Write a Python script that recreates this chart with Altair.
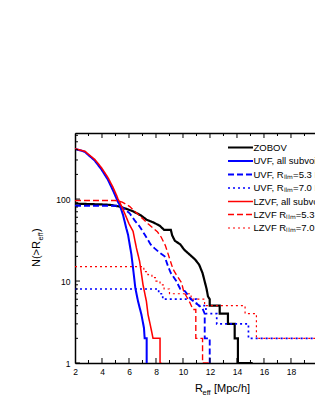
import altair as alt
import pandas as pd

# ---------------- data ----------------
series_names = [
    "ZOBOV",
    "UVF, all subvoids",
    "UVF, R\u2097\u1d62\u2098=5.3 Mpc/h",
    "UVF, R\u2097\u1d62\u2098=7.0 Mpc/h",
    "LZVF, all subvoids",
    "LZVF R\u2097\u1d62\u2098=5.3 Mpc/h",
    "LZVF R\u2097\u1d62\u2098=7.0 Mpc/h",
]

zobov_r = [2, 3, 4, 4.6, 5.3, 5.8, 6.3, 6.9, 7.3, 7.8, 8.3, 8.6, 9.1, 9.2, 9.4,
           9.8, 10.1, 10.5, 10.9, 11.2, 11.45, 11.6, 11.75, 11.85, 11.98, 11.98,
           12.72, 12.72, 13.33, 13.33, 13.83, 13.83, 14.07, 14.07, 15.16]
zobov_n = [88, 87, 86, 85, 81, 76, 71, 63, 56, 52, 47, 42, 42, 36, 31,
           28, 24, 21, 18.3, 15.8, 12.5, 10, 8, 6.5, 6, 5,
           5, 4, 4, 3, 3, 2, 2, 1, 1]

uvf_all_r = [2, 2.72, 3.46, 3.96, 4.44, 4.81, 5.07, 5.19, 5.31, 5.56, 5.8, 5.93,
             6.18, 6.30, 6.47, 6.67, 6.92, 7.11, 7.16, 7.31, 7.31, 7.36]
uvf_all_n = [410, 378, 295, 230, 172, 128, 102, 92, 85, 64, 44, 36.7,
             21, 14.4, 8.2, 5.65, 3.9, 2.67, 2, 2, 1, 1]

uvf53_r = [2, 5.3, 5.55, 6.05, 6.42, 6.8, 7.16, 7.6, 7.9, 8.3, 8.64, 8.9, 9.1,
           9.5, 9.8, 10.15, 10.6, 11.2, 11.45, 11.61, 11.61, 11.98, 11.98, 12.05]
uvf53_n = [83, 83, 78, 67, 55, 46, 37, 28, 25, 22, 20, 15, 12.5,
           10, 8, 7.5, 6, 5, 4.6, 4, 2, 2, 1, 1]

uvf70_r = [2, 8.2, 8.2, 8.5, 8.5, 11.0, 11.0, 11.7, 11.7, 12.5, 12.5, 14.85,
           14.85, 20.25, 20.25, 24]
uvf70_n = [8, 8, 7, 7, 6, 6, 5, 5, 4, 4, 3, 3, 2, 2, 1, 1]

lzvf_all_r = [2, 2.72, 3.46, 3.96, 4.44, 4.81, 5.07, 5.19, 5.31, 5.5, 5.73, 6.0,
              6.30, 6.55, 6.79, 7.04, 7.29, 7.41, 7.6, 7.78, 8.3, 8.3, 8.4]
lzvf_all_n = [410, 384, 305, 242, 183, 140, 112, 100, 92, 78, 64, 50,
              40.5, 25.3, 17.3, 9, 5.65, 3.9, 2.8, 2, 2, 1, 1]

lzvf53_r = [2, 5.0, 5.5, 6.06, 6.42, 7.0, 7.41, 8.1, 8.4, 8.7, 9.0, 9.26, 9.5,
            9.9, 10.05, 10.5, 10.74, 10.95, 10.95, 11.45, 11.45, 12.0]
lzvf53_n = [96, 96, 92, 81, 71, 58, 50, 40, 34, 27, 19, 14, 12,
            9.5, 7.5, 5.5, 4.5, 4.5, 2, 2, 1, 1]

lzvf70_r = [2, 7.1, 7.1, 7.4, 7.4, 7.7, 7.7, 8.0, 8.0, 8.3, 8.3, 8.6, 8.6, 9.0,
            9.0, 10.6, 10.6, 11.6, 11.6, 14.6, 14.6, 15.44, 15.44, 24]
lzvf70_n = [15, 15, 13, 13, 12, 12, 11, 11, 10, 10, 9, 9, 8, 8,
            7, 7, 6, 6, 5, 5, 4, 4, 2, 2]

series_data = [
    (zobov_r, zobov_n), (uvf_all_r, uvf_all_n), (uvf53_r, uvf53_n),
    (uvf70_r, uvf70_n), (lzvf_all_r, lzvf_all_n), (lzvf53_r, lzvf53_n),
    (lzvf70_r, lzvf70_n),
]

x_major = [2, 4, 6, 8, 10, 12, 14, 16, 18, 20]
x_minor = [3, 5, 7, 9, 11, 13, 15, 17, 19]
y_major = [1, 10, 100]
y_minor = [2, 3, 4, 5, 6, 7, 8, 9, 20, 30, 40, 50, 60, 70, 80, 90,
           200, 300, 400, 500, 600]

# ---------------- styles ----------------
colors = ["#000000", "#0000FF", "#0000FF", "#0000FF", "#FF0000", "#FF0000", "#FF0000"]
dashes = [[1, 0], [1, 0], [6, 3], [2, 3], [1, 0], [6, 3], [2, 3]]
widths = [2.2, 1.2, 1.8, 1.8, 1.2, 1.8, 1.8]
FONT = "Liberation Sans"

rows = []
for name, (rs, ns) in zip(series_names, series_data):
    for i, (r, n) in enumerate(zip(rs, ns)):
        rows.append({"series": name, "r": r, "n": n, "i": i})
df = pd.DataFrame(rows)

W, H = 240, 230
x_scale = alt.Scale(domain=[2, 19.78], nice=False, zero=False)
y_scale = alt.Scale(type="log", domain=[1, 640], nice=False)

x_axis_bottom = alt.Axis(orient="bottom", values=x_major, title=None, ticks=False,
                         grid=False, domainColor="black", domainWidth=1.5,
                         labelFontSize=8.5, labelFont=FONT, labelColor="black",
                         labelPadding=4, labelFlush=False, format="d")
x_axis_top = alt.Axis(orient="top", title=None, ticks=False, labels=False, grid=False,
                      domainColor="black", domainWidth=1.5)
y_axis_left = alt.Axis(orient="left", values=y_major, title=None, ticks=False,
                       grid=False, domainColor="black", domainWidth=1.5,
                       labelFontSize=8.5, labelFont=FONT, labelColor="black",
                       labelPadding=5, format="d", labelFlush=False,
                       labelOverlap=False)

lines = alt.Chart(df).mark_line(clip=True).encode(
    x=alt.X("r:Q", scale=x_scale, axis=x_axis_bottom),
    y=alt.Y("n:Q", scale=y_scale, axis=y_axis_left),
    color=alt.Color("series:N", scale=alt.Scale(domain=series_names, range=colors),
                    legend=alt.Legend(orient="none", legendX=158, legendY=7, title=None,
                                      symbolType="M-2,0H2", symbolSize=156,
                                      symbolFillColor="transparent",
                                      labelFont=FONT, labelFontSize=9.5,
                                      labelColor="black", labelLimit=400,
                                      padding=0, rowPadding=1.5, labelOffset=5.5)),
    strokeDash=alt.StrokeDash("series:N", scale=alt.Scale(domain=series_names, range=dashes)),
    strokeWidth=alt.StrokeWidth("series:N", scale=alt.Scale(domain=series_names, range=widths)),
    order=alt.Order("i:Q"),
)

xmaj = pd.DataFrame({"r": x_major})
xmin = pd.DataFrame({"r": x_minor})
ymaj = pd.DataFrame({"n": y_major})
ymin = pd.DataFrame({"n": y_minor})

def xt(data, y0, y1, axis=None):
    return alt.Chart(data).mark_rule(color="black", strokeWidth=1, clip=True).encode(
        x=alt.X("r:Q", scale=x_scale, axis=axis), y=alt.value(y0), y2=alt.value(y1))

def yt(data, length):
    return alt.Chart(data).mark_rule(color="black", strokeWidth=1).encode(
        y=alt.Y("n:Q", scale=y_scale, axis=None), x=alt.value(0), x2=alt.value(length))

ticks = [
    xt(xmaj, H, H - 5), xt(xmin, H, H - 3),
    xt(xmaj, 0, 5, axis=x_axis_top), xt(xmin, 0, 3),
    yt(ymaj, 5), yt(ymin, 3),
]

one = alt.Data(values=[{"k": 1}])

def label(text, x, y, size, angle=0):
    return alt.Chart(one).mark_text(text=text, font=FONT, fontSize=size, color="black",
                                    align="left", baseline="alphabetic", angle=angle).encode(
        x=alt.value(x), y=alt.value(y))

titles = [
    label("R", 120, 259, 11),
    label("eff", 127.5, 262, 7.5),
    label("[Mpc/h]", 139, 259, 11),
    label("N(>R", -35, 134, 11, angle=270),
    label("eff", -32, 107.5, 7.5, angle=270),
    label(")", -35, 99, 11, angle=270),
]

chart = alt.layer(lines, *ticks, *titles).resolve_axis(
    x="independent", y="independent"
).properties(
    width=W, height=H,
    padding={"left": 67, "top": 125, "right": 0, "bottom": 45},
    autosize=alt.AutoSizeParams(type="none"),
).configure_view(strokeWidth=0).configure(background="white")

chart.save("out.html", embed_options={"renderer": "svg", "actions": False})
